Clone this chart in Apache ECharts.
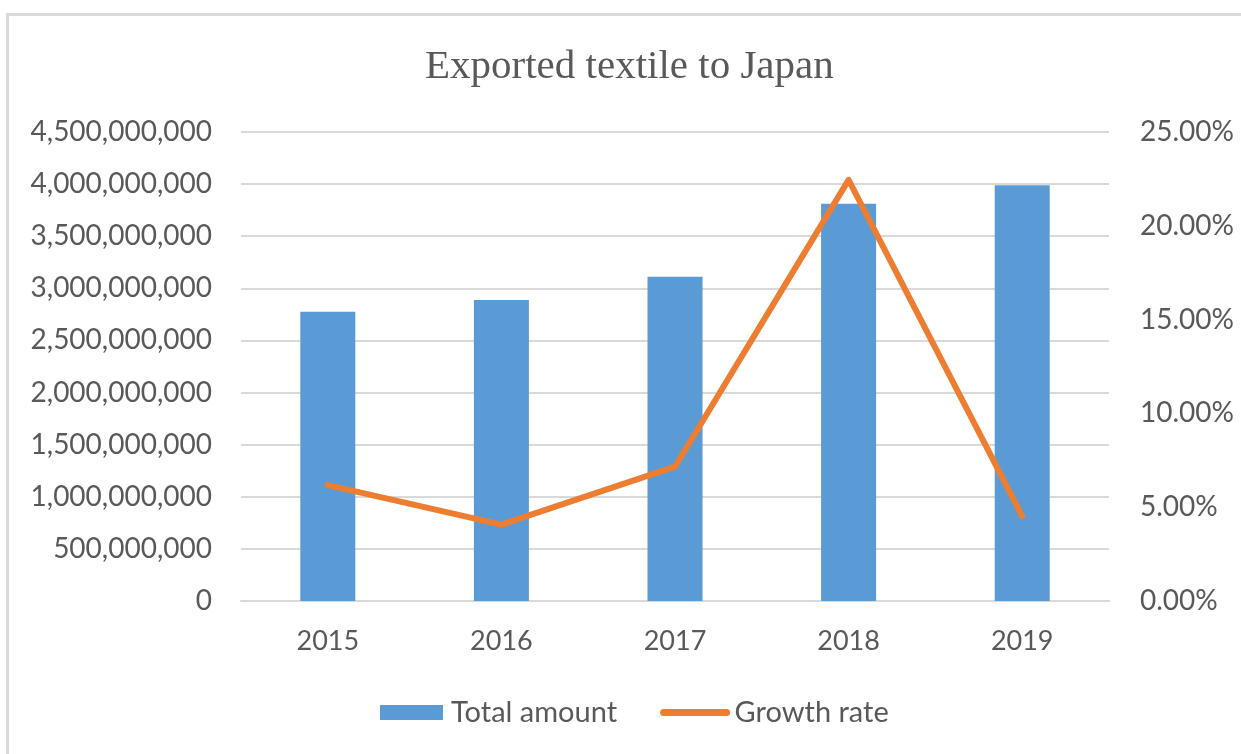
<!DOCTYPE html>
<html>
<head>
<meta charset="utf-8">
<script src="https://cdn.jsdelivr.net/npm/echarts@6/dist/echarts.min.js"></script>
<style>
html,body{margin:0;padding:0;background:#fff;}
#c{width:1241px;height:754px;}
</style>
</head>
<body>
<div id="c"></div>
<script>
var categories = ['2015', '2016', '2017', '2018', '2019'];
var totalAmount = [2776000000, 2888000000, 3112000000, 3812000000, 3989000000];
var growthRate = [0.0618, 0.0407, 0.0716, 0.2245, 0.0453];
var seriesNames = ['Total amount', 'Growth rate'];
var titleText = 'Exported textile to Japan';

var labelColor = '#595959';
var chart = echarts.init(document.getElementById('c'), null, {renderer: 'canvas'});
chart.setOption({
  backgroundColor: '#fff',
  animation: false,
  graphic: [{
    type: 'rect', z: -10, silent: true,
    shape: {x: 7.5, y: 14.5, width: 1400, height: 900},
    style: {fill: 'none', stroke: '#d9d9d9', lineWidth: 3}
  }],
  title: {
    text: titleText, left: 420, top: 42,
    textStyle: {fontFamily: '"Liberation Serif", "Times New Roman", serif', fontSize: 41, fontWeight: 'normal', color: labelColor}
  },
  legend: {
    left: 375, top: 693, itemWidth: 63, itemHeight: 15, itemGap: 43,
    textStyle: {fontFamily: 'Lato, sans-serif', fontSize: 29, color: labelColor, padding: [0, 0, 0, 3]},
    data: [
      {name: seriesNames[0], icon: 'rect'},
      {name: seriesNames[1], itemStyle: {opacity: 0}, lineStyle: {width: 7, cap: 'round'}}
    ]
  },
  grid: {left: 241, right: 132, top: 132, bottom: 153, containLabel: false},
  xAxis: {
    type: 'category', data: categories,
    axisLine: {show: true, lineStyle: {color: '#d9d9d9', width: 2}},
    axisTick: {show: false},
    axisLabel: {margin: 27, fontFamily: 'Lato, sans-serif', fontSize: 27, color: labelColor}
  },
  yAxis: [{
    type: 'value', min: 0, max: 4500000000, interval: 500000000,
    axisLine: {show: false}, axisTick: {show: false},
    splitLine: {lineStyle: {color: '#d9d9d9', width: 2}},
    axisLabel: {margin: 29, fontFamily: 'Lato, sans-serif', fontSize: 28, color: labelColor,
      formatter: function (v) { return Number(v).toLocaleString('en-US'); }}
  }, {
    type: 'value', min: 0, max: 0.25, interval: 0.05,
    axisLine: {show: false}, axisTick: {show: false}, splitLine: {show: false},
    axisLabel: {margin: 31, fontFamily: 'Lato, sans-serif', fontSize: 28, color: labelColor,
      formatter: function (v) { return (v * 100).toFixed(2) + '%'; }}
  }],
  series: [{
    name: seriesNames[0], type: 'bar', data: totalAmount, barWidth: 55,
    itemStyle: {color: '#5b9bd5'}
  }, {
    name: seriesNames[1], type: 'line', yAxisIndex: 1, data: growthRate,
    symbol: 'none', showSymbol: false,
    lineStyle: {color: '#ed7d31', width: 6, cap: 'round', join: 'round'},
    itemStyle: {color: '#ed7d31'}
  }]
});
</script>
</body>
</html>
